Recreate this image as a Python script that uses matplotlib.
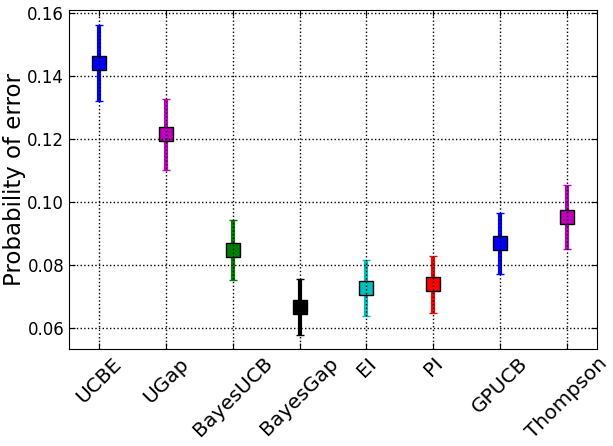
import numpy as np
import matplotlib
matplotlib.use('Agg')
import matplotlib.pyplot as plt

methods = ['UCBE', 'UGap', 'BayesUCB', 'BayesGap', 'EI', 'PI', 'GPUCB', 'Thompson']
perr = [0.1440, 0.1215, 0.0847, 0.0667, 0.0726, 0.0738, 0.0868, 0.0953]
ci = [0.0121, 0.0113, 0.0095, 0.0088, 0.0089, 0.0090, 0.0097, 0.0101]
colors = ['b', 'm', 'g', 'k', 'c', 'r', 'b', 'm']

fig = plt.figure(figsize=(6.13, 4.46), dpi=100)
ax = fig.add_axes([0.1126, 0.2175, 0.8614, 0.7605])

x = np.arange(len(methods))
for i in x:
    ax.errorbar(x[i], perr[i], yerr=ci[i], color=colors[i], lw=3, capsize=3,
                capthick=3, marker='s', ms=10, mfc=colors[i], mec='k', mew=1)

ax.set_xlim(-0.45, 7.45)
ax.set_ylim(0.0533, 0.161)
yt = [0.06, 0.08, 0.10, 0.12, 0.14, 0.16]
ax.set_yticks(yt)
ax.set_yticklabels(['%.2f' % v for v in yt], fontsize=12)
ax.set_xticks(x)
ax.set_xticklabels(methods, rotation=45, fontsize=14.5)
ax.set_ylabel('Probability of error', fontsize=16.5, labelpad=0.5)
ax.tick_params(direction='in', top=True, right=True, length=4)
ax.set_axisbelow(False)
ax.grid(True, color='k', ls=':', lw=1)

fig.savefig('out.png', dpi=100)
